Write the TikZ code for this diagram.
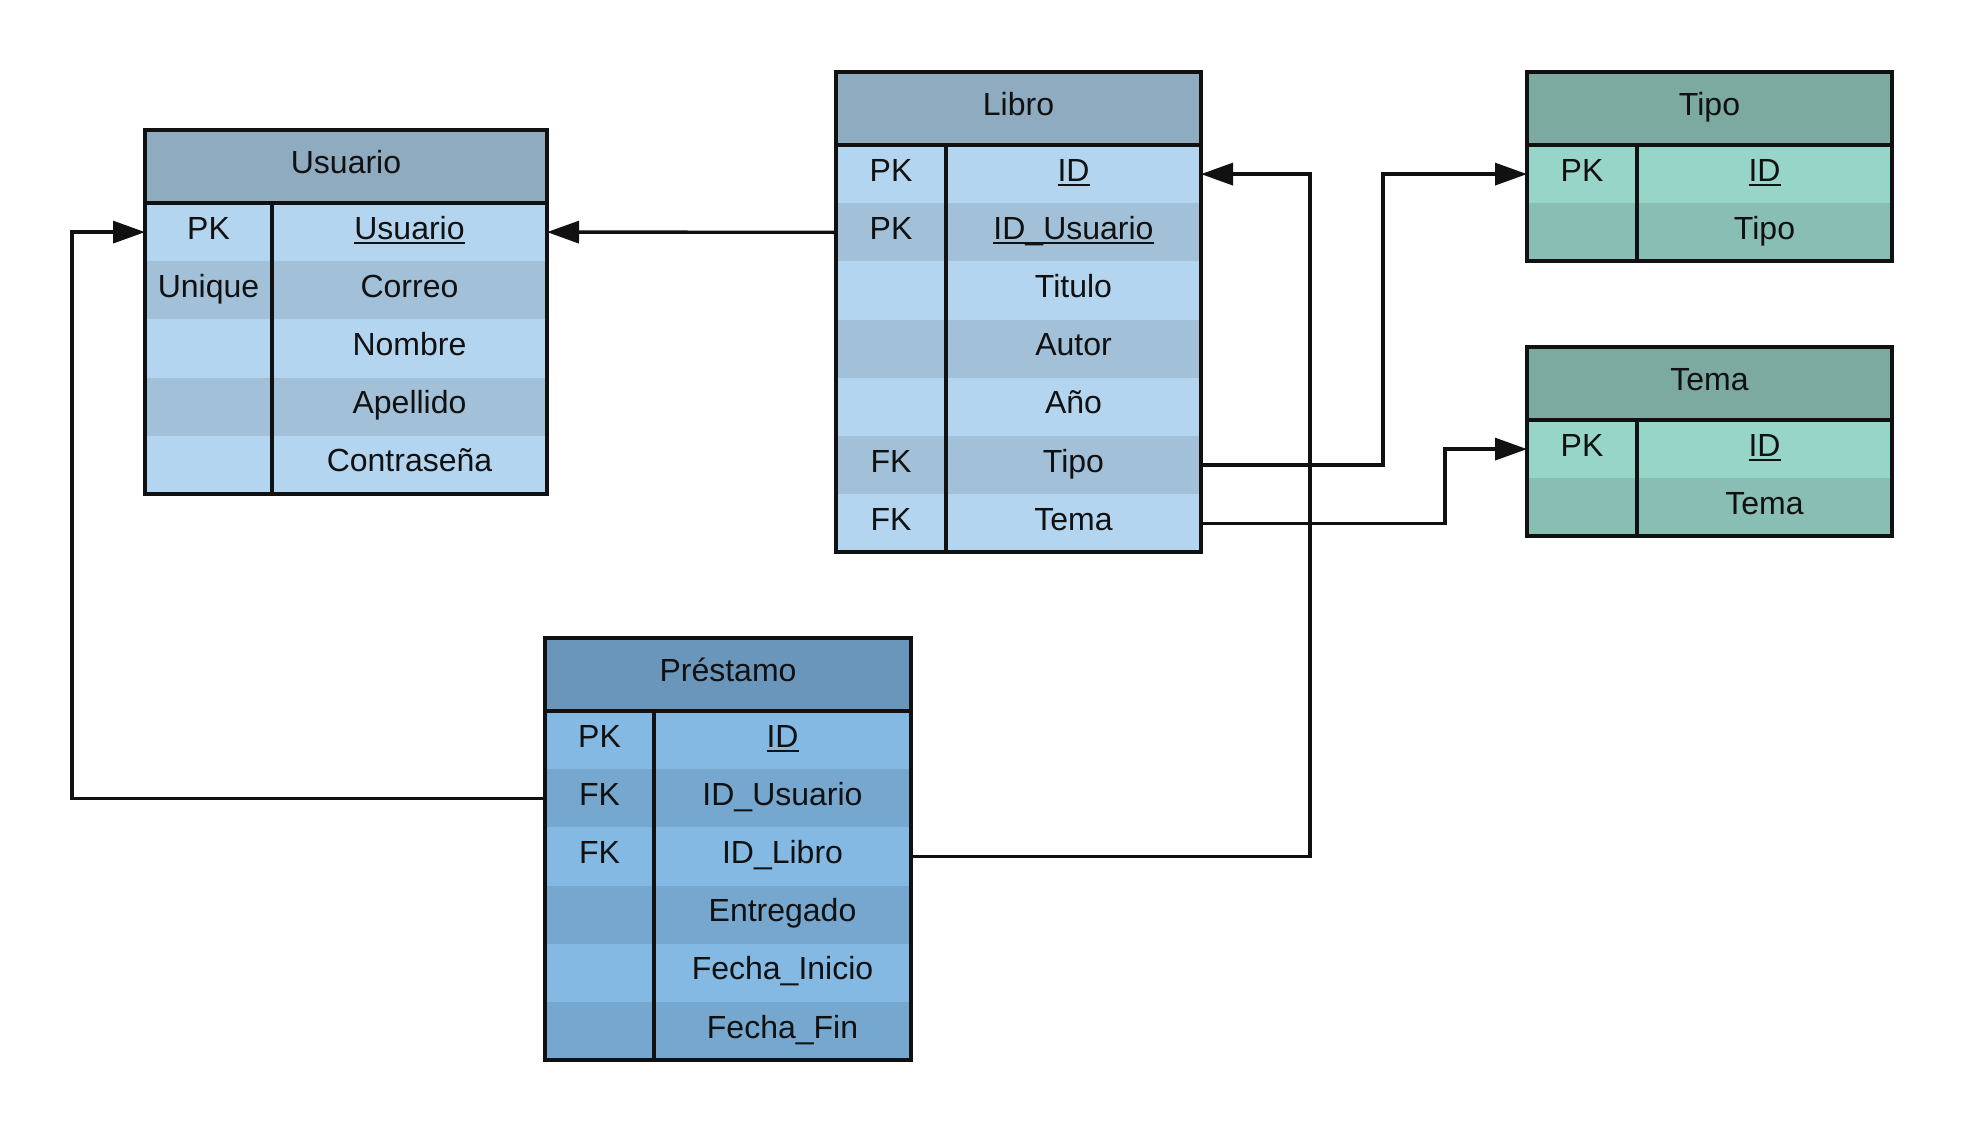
\documentclass[tikz,border=0pt]{standalone}
\usepackage{fontspec}
\setmainfont{Liberation Sans}
\usetikzlibrary{arrows.meta}
\definecolor{usuH}{HTML}{8FABC0}
\definecolor{usuL}{HTML}{B3D5EF}
\definecolor{usuD}{HTML}{A2C0D8}
\definecolor{tipH}{HTML}{7CA9A0}
\definecolor{tipL}{HTML}{98D5C9}
\definecolor{tipD}{HTML}{88BEB3}
\definecolor{preH}{HTML}{6A96BB}
\definecolor{preL}{HTML}{84B9E3}
\definecolor{preD}{HTML}{76A7CF}
\definecolor{ink}{HTML}{111111}
\newcommand\myul[1]{\setbox0\hbox{#1}\rlap{\rule[-0.15em]{\wd0}{0.065em}}\box0}
\tikzset{
  tabline/.style={line width=2pt, draw=ink},
  cell/.style={inner sep=0pt, outer sep=0pt, minimum height=29.1pt, text=ink,
    text height=11pt, text depth=4pt, font=\fontsize{16}{19}\selectfont},
  hdrcell/.style={cell, minimum height=36.5pt},
  conn/.style={line width=1.7pt, draw=ink, -{Triangle[length=16pt,width=11pt]}},
}
% #1 name, #2 x, #3 y, #4 total width, #5 key width, #6 title, #7 rows key/field
\newcommand\ertable[7]{%
  \node[hdrcell, fill=\tabH, minimum width=#4*0.5pt, anchor=north west] (#1-0) at (#2,#3) {#6};
  \foreach [count=\i] \k/\f in {#7} {
    \pgfmathsetmacro\yy{#3+73+(\i-1)*58.2}
    \pgfmathtruncatemacro\odd{mod(\i,2)}
    \ifnum\odd=1 \def\rc{\tabL}\else\def\rc{\tabD}\fi
    \node[cell, fill=\rc, minimum width=#5*0.5pt, anchor=north west] (#1-k\i) at (#2,\yy) {\k};
    \node[cell, fill=\rc, minimum width=(#4-#5)*0.5pt, anchor=north west] (#1-\i) at (#2+#5,\yy) {\f};
    \xdef\lastrow{\i}
  }
  \draw[tabline] (#1-0.north west) rectangle (#1-\lastrow.south east);
  \draw[tabline] (#1-0.south west) -- (#1-0.south east);
  \draw[tabline] (#1-k1.north east) -- (#1-k\lastrow.south east);
}
\begin{document}
\begin{tikzpicture}[x=0.5pt,y=-0.5pt]
\fill[white] (0,0) rectangle (1965,1135);
\useasboundingbox (0,0) rectangle (1965,1135);

\def\tabH{usuH}\def\tabL{usuL}\def\tabD{usuD}
\ertable{usuario}{145}{130}{402}{127}{Usuario}{PK/\myul{Usuario},Unique/Correo,/Nombre,/Apellido,/Contraseña}
\ertable{libro}{836}{72}{365}{110}{Libro}{PK/\myul{ID},PK/\myul{ID\_Usuario},/Titulo,/Autor,/Año,FK/Tipo,FK/Tema}

\def\tabH{tipH}\def\tabL{tipL}\def\tabD{tipD}
\ertable{tipo}{1527}{72}{365}{110}{Tipo}{PK/\myul{ID},/Tipo}
\ertable{tema}{1527}{347}{365}{110}{Tema}{PK/\myul{ID},/Tema}

\def\tabH{preH}\def\tabL{preL}\def\tabD{preD}
\ertable{prestamo}{545}{638}{366}{109}{Préstamo}{PK/\myul{ID},FK/ID\_Usuario,FK/ID\_Libro,/Entregado,/Fecha\_Inicio,/Fecha\_Fin}

% connector bend columns
\coordinate (cL) at (72,0);
\coordinate (cP) at (1310,0);
\coordinate (cT) at (1383,0);
\coordinate (cM) at (1445,0);

\draw[conn] (libro-k2.west) -- (usuario-1.east);
\draw[conn] (prestamo-k2.west) -- (prestamo-k2.west -| cL) |- (usuario-k1.west);
\draw[conn] (prestamo-3.east) -- (prestamo-3.east -| cP) |- (libro-1.east);
\draw[conn] (libro-6.east) -- (libro-6.east -| cT) |- (tipo-k1.west);
\draw[conn] (libro-7.east) -- (libro-7.east -| cM) |- (tema-k1.west);
\end{tikzpicture}
\end{document}
